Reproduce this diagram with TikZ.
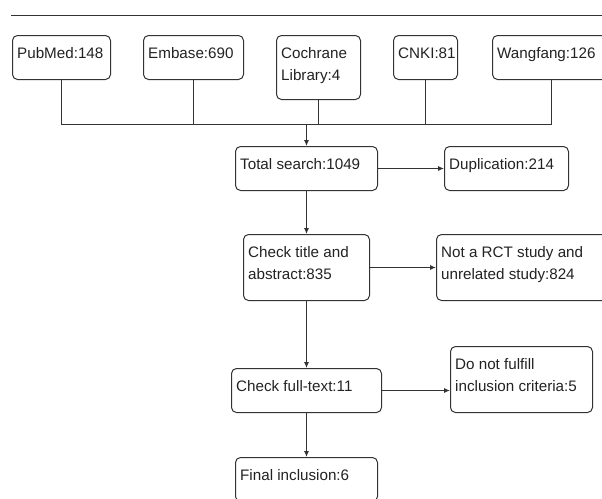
\documentclass[tikz,border=0pt]{standalone}
\usepackage{fontspec}
\setmainfont{Liberation Sans}
\usetikzlibrary{arrows.meta,calc}
\definecolor{lc}{HTML}{333333}
\definecolor{tc}{HTML}{222222}
\tikzset{
  box/.style={draw=lc, line width=1pt, rounded corners=5pt, inner sep=0pt},
  txt/.style={anchor=north west, inner sep=0pt, align=left, text=tc,
    font=\fontsize{15.2}{22}\selectfont},
  conn/.style={draw=lc, line width=1pt},
  arr/.style={conn, -{Latex[length=6pt,width=5pt]}}
}
\begin{document}
\begin{tikzpicture}[x=1pt,y=-1pt]
\useasboundingbox (0,0) rectangle (602,498);
% top rule
\coordinate (ruleL) at (11,15.5);
\coordinate (ruleR) at (612,15.5);
\draw[lc, line width=1.2pt] (ruleL) -- (ruleR);
% source boxes
\node[box, minimum width=98pt, minimum height=44pt] (pub) at (61.5,57.5) {};
\node[box, minimum width=100pt, minimum height=44pt] (emb) at (193.5,57.5) {};
\node[box, minimum width=84pt, minimum height=64pt] (coch) at (318.5,67.5) {};
\node[box, minimum width=64pt, minimum height=44pt] (cnki) at (425.5,57.5) {};
\node[box, minimum width=118pt, minimum height=44pt] (wang) at (551.5,57.5) {};
% flow boxes
\node[box, minimum width=142pt, minimum height=44pt] (tot) at (306.5,168.5) {};
\node[box, minimum width=124pt, minimum height=44pt] (dup) at (506.5,168.5) {};
\node[box, minimum width=126pt, minimum height=66pt] (chk) at (306.5,267.5) {};
\node[box, minimum width=176pt, minimum height=66pt] (nrct) at (524.5,267.5) {};
\node[box, minimum width=150pt, minimum height=44pt] (full) at (306.5,390.5) {};
\node[box, minimum width=142pt, minimum height=66pt] (dnf) at (521.5,379.5) {};
\node[box, minimum width=142pt, minimum height=44pt] (fin) at (306.5,479.5) {};
% texts
\node[txt] (pub-t) at ([xshift=5pt,yshift=-8pt]pub.north west) {\strut PubMed:148};
\node[txt] (emb-t) at ([xshift=5pt,yshift=-8pt]emb.north west) {\strut Embase:690};
\node[txt] (coch-t) at ([xshift=5pt,yshift=-8pt]coch.north west) {\strut Cochrane\\Library:4};
\node[txt] (cnki-t) at ([xshift=5pt,yshift=-8pt]cnki.north west) {\strut CNKI:81};
\node[txt] (wang-t) at ([xshift=5pt,yshift=-8pt]wang.north west) {\strut Wangfang:126};
\node[txt] (tot-t) at ([xshift=5pt,yshift=-8pt]tot.north west) {\strut Total search:1049};
\node[txt] (dup-t) at ([xshift=5pt,yshift=-8pt]dup.north west) {\strut Duplication:214};
\node[txt] (chk-t) at ([xshift=5pt,yshift=-8pt]chk.north west) {\strut Check title and\\abstract:835};
\node[txt] (nrct-t) at ([xshift=5pt,yshift=-8pt]nrct.north west) {\strut Not a RCT study and\\unrelated study:824};
\node[txt] (full-t) at ([xshift=5pt,yshift=-8pt]full.north west) {\strut Check full-text:11};
\node[txt] (dnf-t) at ([xshift=5pt,yshift=-8pt]dnf.north west) {\strut Do not fulfill\\inclusion criteria:5};
\node[txt] (fin-t) at ([xshift=5pt,yshift=-8pt]fin.north west) {\strut Final inclusion:6};
% bus
\coordinate (bus) at (306.5,124.5);
\draw[conn] (pub.south) -- (pub.south |- bus);
\draw[conn] (emb.south) -- (emb.south |- bus);
\draw[conn] (coch.south) -- (coch.south |- bus);
\draw[conn] (cnki.south) -- (cnki.south |- bus);
\draw[conn] (wang.south) -- (wang.south |- bus);
\draw[conn] (pub.south |- bus) -- (wang.south |- bus);
\draw[arr] (bus) -- (tot.north);
% flow
\draw[arr] (tot.east) -- (tot.east -| dup.west);
\draw[arr] (tot.south) -- (tot.south |- chk.north);
\draw[arr] (chk.east) -- (chk.east -| nrct.west);
\draw[arr] (chk.south) -- (chk.south |- full.north);
\draw[arr] (full.east) -- (full.east -| dnf.west);
\draw[arr] (full.south) -- (full.south |- fin.north);
\end{tikzpicture}
\end{document}
